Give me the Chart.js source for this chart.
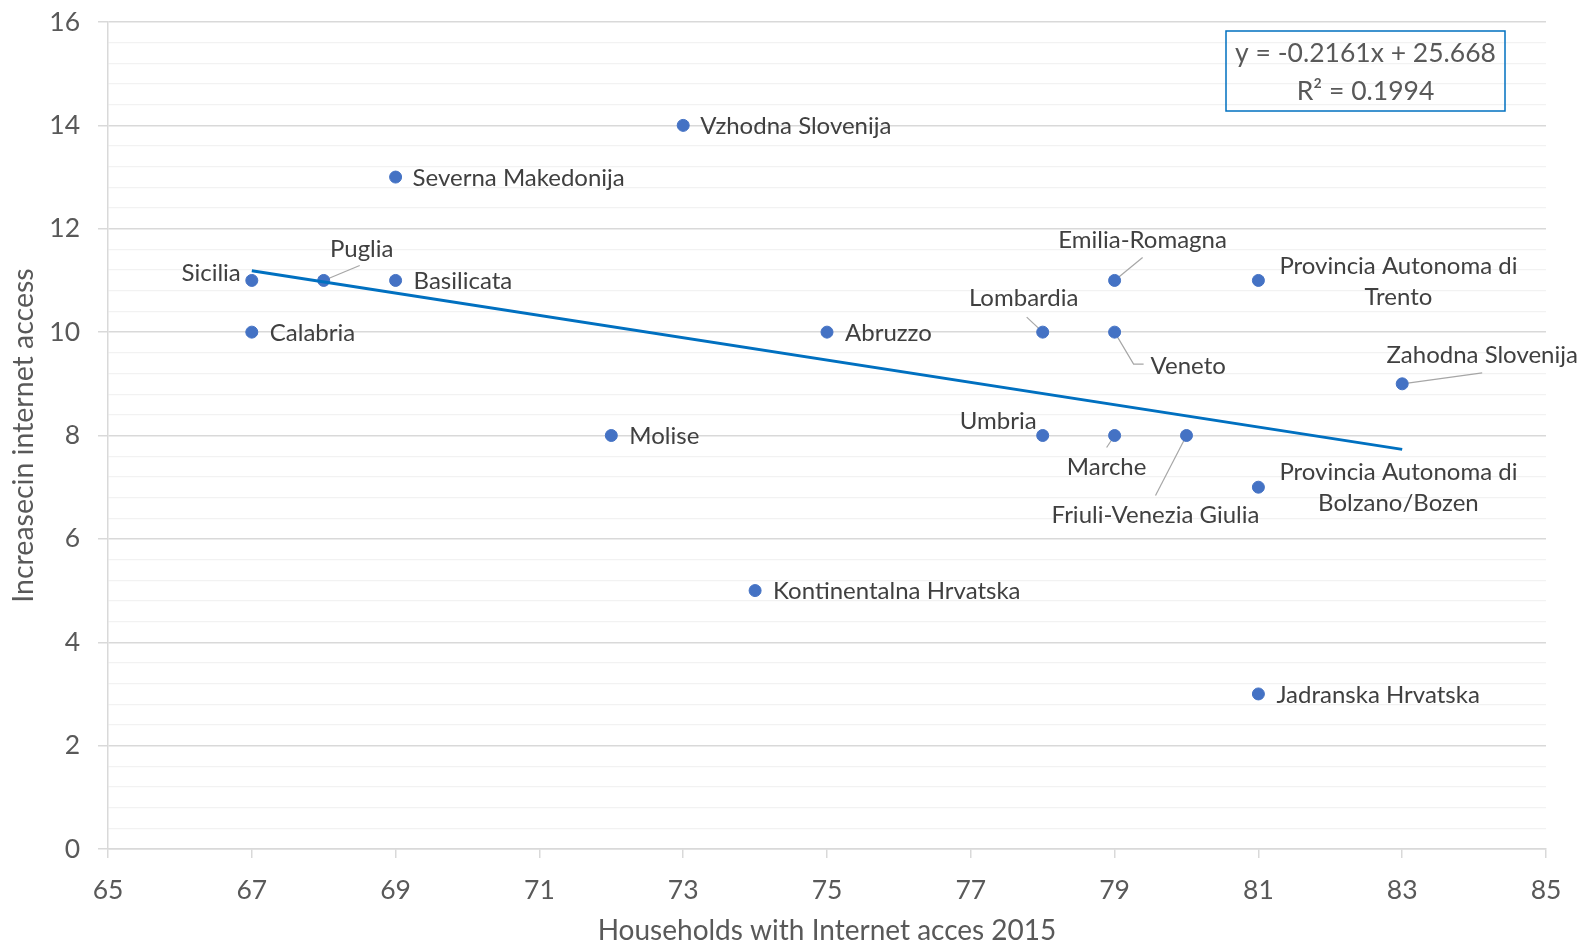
<!DOCTYPE html>
<html>
<head>
<meta charset="utf-8">
<script src="https://cdn.jsdelivr.net/npm/chart.js@4"></script>
<style>
  html, body { margin: 0; padding: 0; background: #fff; }
</style>
</head>
<body>
<canvas id="chart" width="1587" height="948"></canvas>
<script>
// data
const regions = [
  'Sicilia', 'Calabria', 'Puglia', 'Basilicata', 'Severna Makedonija',
  'Vzhodna Slovenija', 'Molise', 'Kontinentalna Hrvatska', 'Abruzzo',
  'Lombardia', 'Umbria', 'Emilia-Romagna', 'Veneto', 'Marche',
  'Friuli-Venezia Giulia', 'Provincia Autonoma di Trento',
  'Provincia Autonoma di Bolzano/Bozen', 'Jadranska Hrvatska', 'Zahodna Slovenija'
];
const households2015 = [67, 67, 68, 69, 69, 73, 72, 74, 75, 78, 78, 79, 79, 79, 80, 81, 81, 81, 83];
const increaseAccess = [11, 10, 11, 11, 13, 14, 8, 5, 10, 10, 8, 11, 10, 8, 8, 11, 7, 3, 9];

const xTicks = [65, 67, 69, 71, 73, 75, 77, 79, 81, 83, 85];
const yTicks = [0, 2, 4, 6, 8, 10, 12, 14, 16];

// linear trendline as printed on the chart
const trendSlope = -0.2161;
const trendIntercept = 25.668;
const trendR2 = 0.1994;
const trendFrom = 67, trendTo = 83;

// where each data label sits relative to its point (px), plus optional leader line
const labelPlace = {
  'Sicilia': { dx: -11, dy: -7, align: 'right' },
  'Calabria': { dx: 18, dy: 1, align: 'left' },
  'Puglia': { dx: 38, dy: -31, align: 'center', leader: [[36, -15]] },
  'Basilicata': { dx: 18, dy: 1, align: 'left' },
  'Severna Makedonija': { dx: 17, dy: 1, align: 'left' },
  'Vzhodna Slovenija': { dx: 17, dy: 1, align: 'left' },
  'Molise': { dx: 18, dy: 1, align: 'left' },
  'Kontinentalna Hrvatska': { dx: 18, dy: 1, align: 'left' },
  'Abruzzo': { dx: 18, dy: 1, align: 'left' },
  'Lombardia': { dx: -19, dy: -34, align: 'center', leader: [[-16, -15]] },
  'Umbria': { dx: -6, dy: -14, align: 'right' },
  'Emilia-Romagna': { dx: 28, dy: -40, align: 'center', leader: [[28, -23]] },
  'Veneto': { dx: 36, dy: 34, align: 'left', leader: [[19, 32], [29, 32]] },
  'Marche': { dx: -8, dy: 32, align: 'center', leader: [[-8, 12]] },
  'Friuli-Venezia Giulia': { dx: -31, dy: 80, align: 'center', leader: [[-31, 60]] },
  'Provincia Autonoma di Trento': { dx: 140, dy: 1, align: 'center', lines: ['Provincia Autonoma di', 'Trento'] },
  'Provincia Autonoma di Bolzano/Bozen': { dx: 140, dy: 1, align: 'center', lines: ['Provincia Autonoma di', 'Bolzano/Bozen'] },
  'Jadranska Hrvatska': { dx: 18, dy: 1, align: 'left' },
  'Zahodna Slovenija': { dx: 80, dy: -29, align: 'center', leader: [[80, -11]] }
};

const FONT = 'Lato, "Open Sans", sans-serif';
const TXT = '#595959';
const LBL = '#404040';

// minor y grid every 0.4 between the labelled ticks
const yAll = [];
yTicks.forEach((v, i) => {
  yAll.push(v);
  if (i < yTicks.length - 1) {
    const step = (yTicks[i + 1] - v) / 5;
    for (let k = 1; k < 5; k++) yAll.push(Math.round((v + k * step) * 10) / 10);
  }
});
const isMajor = v => yTicks.includes(v);

const points = households2015.map((x, i) => ({ x: x, y: increaseAccess[i] }));
const trend = [trendFrom, trendTo].map(x => ({ x: x, y: trendSlope * x + trendIntercept }));

const leaderPlugin = {
  id: 'leaders',
  beforeDatasetsDraw(chart) {
    const ctx = chart.ctx;
    const meta = chart.getDatasetMeta(1);
    ctx.save();
    ctx.strokeStyle = '#a6a6a6';
    ctx.lineWidth = 1.2;
    meta.data.forEach((pt, i) => {
      const p = labelPlace[regions[i]];
      if (!p || !p.leader) return;
      ctx.beginPath();
      ctx.moveTo(pt.x, pt.y);
      p.leader.forEach(l => ctx.lineTo(pt.x + l[0], pt.y + l[1]));
      ctx.stroke();
    });
    ctx.restore();
  }
};

const labelPlugin = {
  id: 'pointLabels',
  afterDatasetsDraw(chart) {
    const ctx = chart.ctx;
    const meta = chart.getDatasetMeta(1);
    ctx.save();
    ctx.font = '24px ' + FONT;
    ctx.fillStyle = LBL;
    ctx.textBaseline = 'middle';
    meta.data.forEach((pt, i) => {
      const p = labelPlace[regions[i]];
      const lines = p.lines || [regions[i]];
      ctx.textAlign = p.align;
      const lh = 31;
      const y0 = pt.y + p.dy - (lines.length - 1) * lh / 2;
      lines.forEach((t, k) => ctx.fillText(t, pt.x + p.dx, y0 + k * lh));
    });
    ctx.restore();
  }
};

const equationPlugin = {
  id: 'equation',
  afterDraw(chart) {
    const ctx = chart.ctx;
    const a = chart.chartArea;
    const right = a.right - 41, top = a.top + 9;
    const w = 279, h = 80;
    ctx.save();
    ctx.strokeStyle = '#0070C0';
    ctx.lineWidth = 1.5;
    ctx.strokeRect(right - w, top, w, h);
    ctx.fillStyle = TXT;
    ctx.font = '26.5px ' + FONT;
    ctx.textAlign = 'center';
    ctx.textBaseline = 'middle';
    const eq = 'y = ' + trendSlope + 'x + ' + trendIntercept;
    ctx.fillText(eq, right - w / 2, top + 22);
    ctx.fillText('R\u00B2 = ' + trendR2, right - w / 2, top + 60);
    ctx.restore();
  }
};

new Chart(document.getElementById('chart'), {
  type: 'scatter',
  data: {
    datasets: [
      {
        type: 'line',
        data: trend,
        borderColor: '#0070C0',
        borderWidth: 3,
        pointRadius: 0,
        fill: false,
        order: 0
      },
      {
        data: points,
        backgroundColor: '#4472C4',
        borderColor: '#4472C4',
        pointRadius: 6,
        order: 1
      }
    ]
  },
  options: {
    responsive: false,
    animation: false,
    layout: { padding: { top: 22, right: 41, left: 0, bottom: 0 } },
    plugins: {
      legend: { display: false },
      tooltip: { enabled: false }
    },
    scales: {
      x: {
        type: 'linear',
        min: 65,
        max: 85,
        afterBuildTicks: s => { s.ticks = xTicks.map(v => ({ value: v })); },
        afterFit: s => { s.height = 99; s.paddingLeft = 0; s.paddingRight = 0; },
        ticks: { color: TXT, font: { family: FONT, size: 26.5 }, padding: 17, autoSkip: false, maxRotation: 0 },
        grid: { drawOnChartArea: false, tickLength: 9, color: '#d9d9d9', lineWidth: 1.5 },
        border: { color: '#d9d9d9', width: 1.5 },
        title: {
          display: true, text: 'Households with Internet acces 2015', color: TXT,
          font: { family: FONT, size: 28 }, padding: { top: 0, bottom: 0 }
        }
      },
      y: {
        type: 'linear',
        min: 0,
        max: 16,
        afterBuildTicks: s => { s.ticks = yAll.map(v => ({ value: v })); },
        afterFit: s => { s.width = 108; s.paddingTop = 0; s.paddingBottom = 0; },
        ticks: {
          color: TXT, font: { family: FONT, size: 26.5 }, padding: 18, autoSkip: false,
          callback: v => isMajor(v) ? String(v) : ''
        },
        grid: {
          tickLength: 10,
          color: c => isMajor(c.tick.value) ? '#d9d9d9' : '#f2f2f2',
          tickColor: c => isMajor(c.tick.value) ? '#d9d9d9' : 'rgba(0,0,0,0)',
          lineWidth: c => isMajor(c.tick.value) ? 1.5 : 1.3
        },
        border: { color: '#d9d9d9', width: 1.5 },
        title: {
          display: true, text: 'Increasecin internet access', color: TXT,
          font: { family: FONT, size: 28.5 }, padding: { top: 7, bottom: 0 }
        }
      }
    }
  },
  plugins: [leaderPlugin, labelPlugin, equationPlugin]
});
</script>
</body>
</html>
